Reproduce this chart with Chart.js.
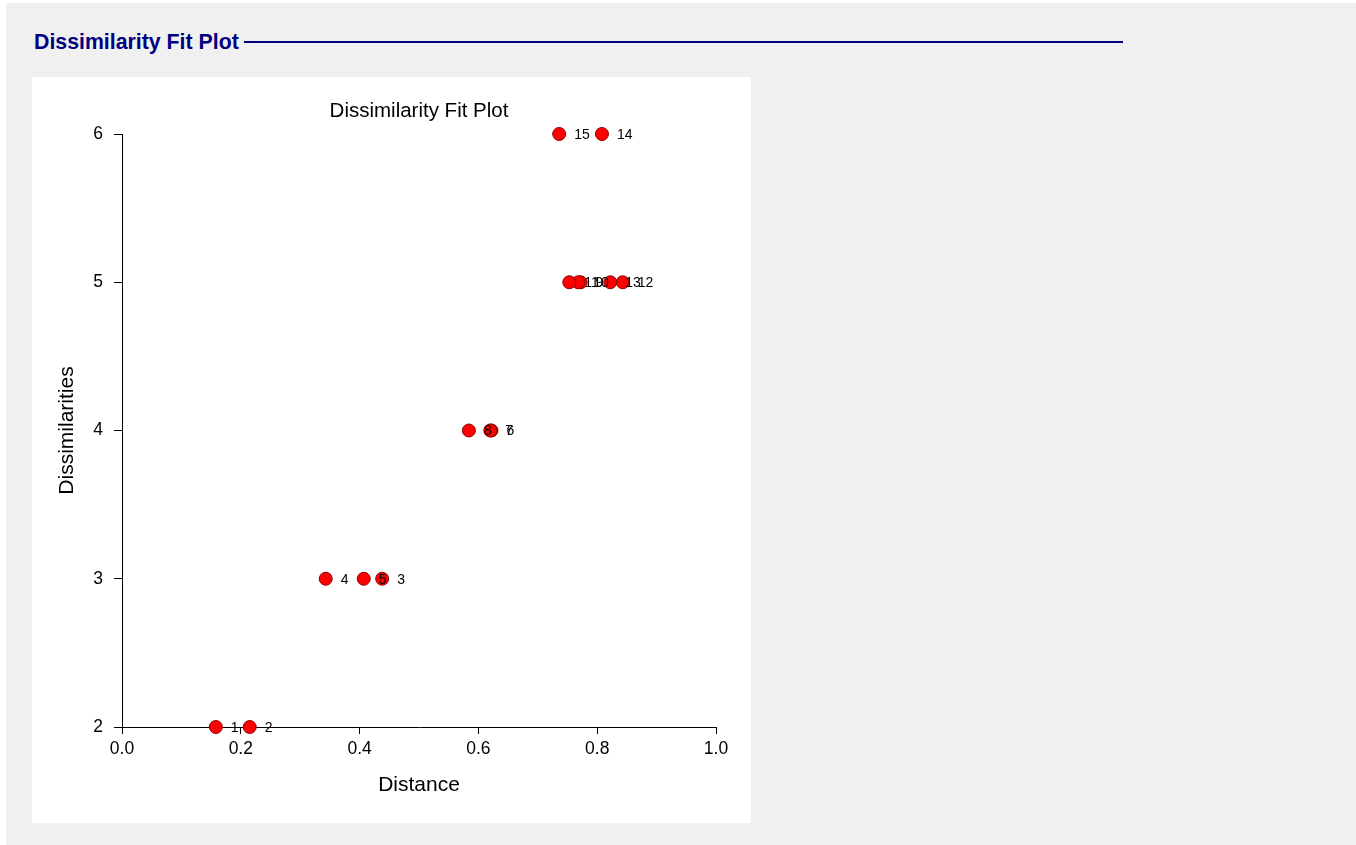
<!DOCTYPE html>
<html>
<head>
<meta charset="utf-8">
<script src="https://cdn.jsdelivr.net/npm/chart.js@4"></script>
<style>
  body { margin: 0; background: #ffffff; font-family: "Liberation Sans", Arial, sans-serif; }
  .page { position: absolute; left: 6px; top: 3px; width: 1350px; height: 842px; background: #f0f0f0; }
  .header { position: absolute; left: 28px; top: 27px; display: flex; align-items: center; }
  .header h1 { margin: 0; font-size: 21.3px; font-weight: bold; color: #000080; line-height: 24px; }
  .header .rule { width: 879px; height: 2px; background: #000080; margin-left: 5px; }
  .box { position: absolute; left: 26px; top: 74px; width: 719px; height: 746px; background: #ffffff; }
</style>
</head>
<body>
<div class="page">
  <div class="header"><h1>Dissimilarity Fit Plot</h1><div class="rule"></div></div>
  <div class="box"><canvas id="fitChart" width="719" height="746"></canvas></div>
</div>
<script>
const pointLabels = ["1", "2", "3", "4", "5", "6", "7", "8", "9", "10", "11", "12", "13", "14", "15"];
const distances = [0.158, 0.215, 0.438, 0.343, 0.407, 0.622, 0.620, 0.584, 0.772, 0.768, 0.753, 0.843, 0.822, 0.808, 0.736];
const dissimilarities = [2, 2, 3, 3, 3, 4, 4, 4, 5, 5, 5, 5, 5, 6, 6];
const xTicks = [0, 0.2, 0.4, 0.6, 0.8, 1.0];
const yTicks = [2, 3, 4, 5, 6];

const points = distances.map((d, i) => ({ x: d, y: dissimilarities[i] }));

// numbers next to each dot, plus the plot title
const labelPlugin = {
  id: "pointLabels",
  afterDatasetsDraw(chart) {
    const ctx = chart.ctx;
    const meta = chart.getDatasetMeta(0);
    ctx.save();
    ctx.fillStyle = "#000000";
    ctx.font = '14px "Liberation Sans", Arial, sans-serif';
    ctx.textBaseline = "middle";
    ctx.textAlign = "left";
    meta.data.forEach((el, i) => {
      ctx.fillText(pointLabels[i], el.x + 15, el.y + 1);
    });
    ctx.font = '20.5px "Liberation Sans", Arial, sans-serif';
    ctx.textAlign = "center";
    const area = chart.chartArea;
    ctx.fillText("Dissimilarity Fit Plot", (area.left + area.right) / 2, 34);
    ctx.restore();
  },
};

new Chart(document.getElementById("fitChart"), {
  type: "scatter",
  data: {
    datasets: [
      {
        data: points,
        backgroundColor: "#ff0000",
        borderColor: "#8b0000",
        borderWidth: 1,
        pointRadius: 6.5,
        pointHoverRadius: 6.5,
        clip: false,
      },
    ],
  },
  options: {
    responsive: false,
    animation: false,
    layout: { padding: { top: 57, right: 35, left: 0, bottom: 0 } },
    plugins: {
      legend: { display: false },
      tooltip: { enabled: false },
    },
    scales: {
      x: {
        type: "linear",
        min: 0,
        max: 1,
        afterFit: (scale) => { scale.height = 96; },
        afterBuildTicks: (scale) => { scale.ticks = xTicks.map((v) => ({ value: v })); },
        ticks: {
          color: "#000000",
          padding: 5,
          font: { family: '"Liberation Sans", Arial, sans-serif', size: 17.5 },
          callback: (v) => Number(v).toFixed(1),
        },
        grid: { drawOnChartArea: false, drawTicks: true, tickLength: 7, color: "#000000" },
        border: { display: true, color: "#000000" },
        title: {
          display: true,
          text: "Distance",
          color: "#000000",
          font: { family: '"Liberation Sans", Arial, sans-serif', size: 21 },
          padding: { top: 0, bottom: 25 },
        },
      },
      y: {
        type: "linear",
        min: 2,
        max: 6,
        afterFit: (scale) => { scale.width = 90; },
        afterBuildTicks: (scale) => { scale.ticks = yTicks.map((v) => ({ value: v })); },
        ticks: {
          color: "#000000",
          padding: 11,
          font: { family: '"Liberation Sans", Arial, sans-serif', size: 17.5 },
        },
        grid: { drawOnChartArea: false, drawTicks: true, tickLength: 8, color: "#000000" },
        border: { display: true, color: "#000000" },
        title: {
          display: true,
          text: "Dissimilarities",
          color: "#000000",
          font: { family: '"Liberation Sans", Arial, sans-serif', size: 21 },
          padding: { top: 23, bottom: 0 },
        },
      },
    },
  },
  plugins: [labelPlugin],
});
</script>
</body>
</html>
